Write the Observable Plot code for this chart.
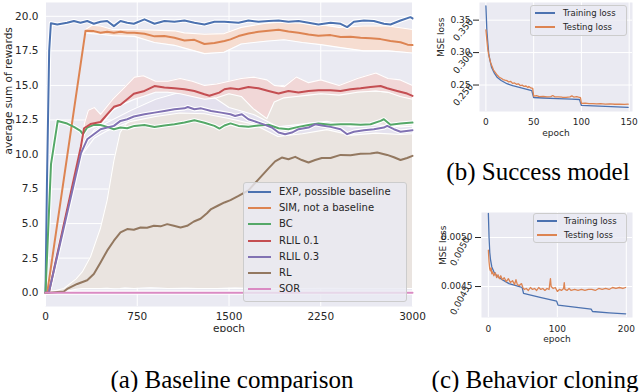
<!DOCTYPE html>
<html><head><meta charset="utf-8">
<script src="https://cdn.jsdelivr.net/npm/d3@7"></script>
<script src="https://cdn.jsdelivr.net/npm/@observablehq/plot@0.6"></script>
<style>
html,body{margin:0;padding:0;background:#fff;}
#root{position:relative;width:640px;height:392px;overflow:hidden;font-family:"DejaVu Sans",sans-serif;color:#262626;}
.panel{position:absolute;}
.legend{position:absolute;box-sizing:border-box;background:rgba(234,234,242,0.8);border:1px solid #cccccc;border-radius:3px;}
.entry{position:absolute;white-space:nowrap;}
.sw{position:absolute;}
.caption{position:absolute;width:320px;text-align:center;font-family:"Liberation Serif","Times New Roman",serif;font-size:25px;line-height:25px;white-space:nowrap;color:#000;}
</style></head>
<body><div id="root"></div>
<script>
// ---------- (a) Baseline comparison: [epoch, value] ----------
const expLine = [[0,0],[12,8],[30,17.5],[44,19.5],[96,19.41],[177,19.53],[232,19.66],[286,19.53],[341,19.66],[395,19.46],[450,19.61],[504,19.66],[559,19.29],[613,19.66],[668,19.53],[722,19.46],[809,19.78],[891,19.46],[972,19.66],[1054,19.61],[1136,19.7],[1217,19.53],[1299,19.41],[1381,19.61],[1463,19.61],[1578,19.53],[1659,19.7],[1741,19.61],[1823,19.66],[1905,19.7],[1986,19.61],[2068,19.66],[2150,19.53],[2231,19.41],[2330,19.53],[2412,19.46],[2466,19.22],[2521,19.61],[2603,19.7],[2684,19.66],[2766,19.46],[2820,19.41],[2902,19.7],[2983,19.94],[3000,19.85]];
const simLine = [[0,0],[14,0],[327,18.95],[395,18.93],[450,18.81],[504,18.88],[559,18.81],[613,18.88],[668,18.81],[727,18.81],[809,18.74],[891,18.55],[972,18.57],[1054,18.45],[1136,18.25],[1217,18.3],[1299,18.0],[1381,18.07],[1463,18.21],[1512,18.33],[1578,18.57],[1659,18.75],[1741,18.88],[1823,18.96],[1905,19.02],[1986,18.9],[2068,18.81],[2150,18.69],[2231,18.6],[2330,18.64],[2412,18.5],[2494,18.52],[2575,18.45],[2657,18.42],[2738,18.35],[2820,18.22],[2902,18.12],[2960,17.95],[3000,17.92]];
const bcLine = [[0,0],[45,9.3],[100,12.43],[177,12.24],[232,12.0],[286,11.71],[305,11.47],[341,11.95],[395,12.14],[450,12.14],[504,12.0],[559,11.83],[613,11.95],[668,11.9],[727,12.07],[809,12.14],[891,11.99],[972,12.1],[1054,12.19],[1136,12.31],[1217,12.48],[1299,12.3],[1381,12.07],[1422,11.88],[1463,12.1],[1512,12.25],[1578,12.07],[1659,12.0],[1741,12.1],[1823,12.15],[1905,11.9],[1986,11.83],[2068,12.0],[2150,12.14],[2231,12.24],[2330,12.15],[2412,12.19],[2494,12.19],[2575,12.15],[2657,12.19],[2739,12.43],[2766,12.55],[2820,12.15],[2902,12.24],[3000,12.31]];
const rlil1Line = [[0,0],[27,0],[290,10.6],[315,11.9],[368,12.2],[450,12.35],[504,12.9],[559,13.45],[613,13.6],[668,14.0],[722,14.4],[809,14.6],[891,14.95],[972,14.85],[1054,14.8],[1136,14.72],[1217,14.6],[1299,14.36],[1340,14.25],[1420,14.48],[1463,14.72],[1512,14.79],[1578,14.72],[1659,14.89],[1741,14.79],[1823,14.6],[1905,14.41],[1986,14.6],[2068,14.48],[2150,14.6],[2231,14.65],[2330,14.65],[2412,14.6],[2494,14.72],[2575,14.79],[2657,14.89],[2739,14.96],[2793,14.79],[2875,14.6],[2956,14.41],[3000,14.24]];
const rlil3Line = [[0,0],[27,0],[290,10.1],[341,11.1],[395,11.47],[450,11.83],[504,11.95],[559,12.07],[613,12.43],[668,12.55],[722,12.75],[809,12.91],[891,13.03],[972,13.15],[1054,13.27],[1136,13.34],[1163,13.44],[1217,13.27],[1272,13.34],[1354,13.15],[1436,13.03],[1512,12.91],[1550,12.79],[1605,12.91],[1659,12.55],[1741,12.31],[1795,12.14],[1850,11.95],[1905,11.59],[1959,11.47],[2014,11.59],[2068,11.83],[2150,11.95],[2204,12.19],[2259,12.1],[2330,12.0],[2412,11.83],[2466,11.47],[2521,11.65],[2603,11.76],[2684,11.83],[2766,11.95],[2793,12.07],[2848,11.83],[2902,11.65],[3000,11.76]];
const rlLine = [[0,0],[27,0],[150,0.08],[177,0.27],[259,0.63],[341,0.9],[395,1.35],[450,2.19],[504,3.04],[559,3.76],[613,4.36],[668,4.6],[722,4.55],[777,4.72],[830,4.7],[886,4.84],[940,4.8],[995,4.96],[1049,4.84],[1104,4.72],[1158,4.84],[1213,5.15],[1267,5.35],[1320,5.75],[1354,6.05],[1408,6.29],[1463,6.53],[1512,6.7],[1578,7.0],[1659,7.4],[1741,8.2],[1823,9.0],[1877,9.5],[1932,9.78],[1986,9.66],[2041,9.83],[2095,9.6],[2150,9.42],[2204,9.6],[2259,9.75],[2330,9.75],[2412,9.97],[2494,9.95],[2575,10.05],[2657,10.07],[2712,10.14],[2793,9.97],[2848,9.8],[2902,9.6],[2956,9.75],[3000,9.9]];
const sorLine = [[0,0],[3000,0]];
// bands: [epoch, lower, upper]
const simBand = [[327,18.8,19.05],[380,18.75,19.35],[450,18.7,19.3],[550,18.6,19.05],[727,18.55,19.05],[891,18.1,19.0],[1054,17.9,18.95],[1136,17.7,18.8],[1300,17.3,18.7],[1460,17.4,18.75],[1600,18.0,19.2],[1800,18.2,19.5],[1950,18.3,19.6],[2100,18.1,19.5],[2250,17.95,19.4],[2400,17.75,19.2],[2600,17.5,19.3],[2800,17.5,19.3],[3000,17.35,19.05]];
const rlil1Band = [[290,10.4,10.8],[320,11.5,12.3],[350,11.9,13.2],[400,12.0,13.4],[450,12.1,12.9],[550,13.2,14.0],[650,13.7,14.9],[727,14.0,15.6],[800,14.2,15.7],[900,14.5,15.3],[1000,14.5,15.3],[1100,14.4,15.5],[1200,14.2,15.3],[1300,14.0,15.0],[1400,14.1,15.1],[1500,14.4,15.3],[1600,14.2,15.5],[1700,13.3,15.6],[1810,12.6,15.4],[1870,13.8,15.0],[1950,14.1,14.9],[2050,14.2,15.6],[2150,14.3,15.2],[2250,14.4,15.4],[2400,14.3,15.0],[2550,14.5,15.5],[2700,14.6,15.9],[2800,14.5,15.5],[2900,14.2,15.4],[3000,14.0,15.0]];
const rlil3Band = [[290,9.9,10.3],[400,11.2,11.8],[500,11.7,12.3],[700,12.4,13.2],[900,12.75,14.0],[1100,13.0,14.5],[1300,12.95,14.6],[1500,12.6,13.4],[1700,12.2,12.9],[1900,11.3,12.0],[2100,11.5,12.2],[2300,11.8,12.4],[2500,11.4,12.0],[2700,11.55,12.15],[2900,11.45,12.0],[3000,11.5,12.05]];
const rlBand = [[0,0,0],[150,0.05,0.3],[250,0.25,1.0],[300,0.3,1.5],[368,0.3,2.6],[450,0.3,4.7],[504,0.32,6.7],[560,0.28,9.6],[610,0.3,11.6],[650,0.33,12.1],[722,0.3,12.9],[860,0.35,13.5],[1000,0.3,13.7],[1150,0.32,13.8],[1250,0.3,14.4],[1400,0.3,14.6],[1550,0.33,14.8],[1700,0.3,14.9],[1900,0.3,14.5],[2100,0.3,14.6],[2300,0.32,14.7],[2500,0.3,14.6],[2700,0.3,14.6],[2900,0.3,14.4],[3000,0.3,14.2]];
const seriesNames = ["EXP, possible baseline","SIM, not a baseline","BC","RLIL 0.1","RLIL 0.3","RL","SOR"];
const seriesColors = ["#4c72b0","#dd8452","#55a868","#c44e52","#8172b3","#937860","#da8bc3"];
const bandFills = ["#eae4e0","#e4e1ee","#f1d7d7","#f6ddd1"]; // RL, RLIL 0.3, RLIL 0.1, SIM
const xTicksA = [0,750,1500,2250,3000];
const yTicksA = [0,2.5,5,7.5,10,12.5,15,17.5,20];

// ---------- (b) Success model ----------
const bTrain = [[0,0.372],[1,0.334],[2,0.315],[3,0.298],[4,0.29],[6,0.277],[9,0.268],[12,0.2615],[16,0.257],[22,0.252],[28,0.249],[36,0.246],[42,0.2438],[48,0.2415],[50,0.2308],[60,0.2300],[75,0.229],[90,0.2282],[98,0.2277],[100,0.2185],[125,0.217],[149,0.2156]];
const bTest = [[0,0.335],[1,0.32],[2,0.305],[3,0.296],[5,0.284],[8,0.273],[12,0.265],[14,0.262],[16,0.2605],[18,0.2585],[20,0.2575],[22,0.2568],[24,0.2548],[26,0.2555],[28,0.2525],[30,0.2532],[32,0.2512],[34,0.2518],[36,0.2492],[38,0.2498],[40,0.2478],[42,0.2485],[44,0.2462],[45,0.2478],[47,0.2455],[49,0.2448],[50,0.2330],[53,0.2335],[56,0.2322],[60,0.2325],[64,0.2318],[68,0.2322],[70,0.2338],[72,0.2318],[76,0.2316],[80,0.2312],[84,0.2310],[88,0.2318],[90,0.2332],[92,0.2315],[95,0.2320],[97,0.2312],[99,0.2306],[100,0.2218],[104,0.2220],[108,0.2212],[112,0.2214],[116,0.2208],[120,0.2212],[125,0.2206],[130,0.2210],[135,0.2204],[140,0.2207],[145,0.2202],[149,0.2205]];
const xTicksB = [0,50,100,150];
const yTicksB = [0.25,0.30,0.35];
const yLabelsB = ["0.250","0.300","0.350"];

// ---------- (c) Behavior cloning ----------
const cTrain = [[0,0.005245],[1,0.0050],[2,0.00485],[3,0.00478],[5,0.00470],[8,0.00465],[12,0.00461],[20,0.00457],[30,0.00453],[45,0.00450],[49,0.00449],[51,0.00443],[60,0.004415],[75,0.00439],[99,0.00435],[101,0.00431],[125,0.00429],[149,0.00427],[151,0.004245],[175,0.004232],[199,0.004222]];
const cTest = [[0,0.00487],[1,0.00475],[2,0.00468],[3,0.00466],[4,0.00469],[5,0.00463],[6,0.00465],[8,0.00461],[10,0.00464],[12,0.00459],[14,0.00462],[16,0.00458],[18,0.00461],[20,0.00457],[23,0.00459],[26,0.00455],[29,0.00458],[32,0.00454],[35,0.00456],[38,0.00452],[40,0.00457],[42,0.00452],[45,0.00451],[48,0.00453],[50,0.00449],[52,0.00447],[55,0.00448],[58,0.00446],[61,0.00449],[64,0.00447],[67,0.00448],[70,0.00446],[73,0.00449],[76,0.00447],[79,0.00448],[82,0.00446],[85,0.00448],[88,0.00447],[90,0.00458],[91,0.00450],[94,0.00448],[97,0.00449],[100,0.00445],[103,0.00447],[106,0.00446],[109,0.00448],[110,0.00454],[111,0.00447],[114,0.00446],[117,0.00448],[120,0.00446],[125,0.00447],[130,0.00446],[135,0.00447],[140,0.00446],[145,0.00447],[150,0.00447],[155,0.00446],[160,0.00448],[165,0.00447],[170,0.00448],[175,0.00447],[180,0.00449],[185,0.00448],[190,0.00449],[195,0.00448],[199,0.00449]];
const xTicksC = [0,100,200];
const yTicksC = [0.0045,0.0050];
const yLabelsC = ["0.0045","0.0050"];
const lossNames = ["Training loss","Testing loss"];
const lossColors = ["#4c72b0","#dd8452"];

// ---------- helpers ----------
const X = d => d[0], Y = d => d[1], LO = d => d[1], HI = d => d[2];
const BG = "#eaeaf2", INK = "#262626";
const root = document.getElementById("root");
function place(node, left, top) {
  const w = document.createElement("div");
  w.className = "panel"; w.style.left = left + "px"; w.style.top = top + "px";
  w.appendChild(node); root.appendChild(w);
}

// ---------- plot (a) ----------
const lines = [expLine, simLine, bcLine, rlil1Line, rlil3Line, rlLine, sorLine];
const bands = [rlBand, rlil3Band, rlil1Band, simBand];
const bandMarks = bands.flatMap((b, k) => [
  Plot.areaY(b, {x: X, y1: LO, y2: HI, fill: bandFills[k]}),
  Plot.line(b, {x: X, y: LO, stroke: "white", strokeWidth: 1.1}),
  Plot.line(b, {x: X, y: HI, stroke: "white", strokeWidth: 1.1})
]);
const haloMarks = [0, 2, 4, 6].map(k => Plot.line(lines[k], {x: X, y: Y, stroke: "white", strokeWidth: 4.2}));
const lineMarks = lines.map((l, k) => Plot.line(l, {x: X, y: Y, stroke: seriesColors[k], strokeWidth: 2, strokeLinejoin: "round"}));

const plotA = Plot.plot({
  width: 434, height: 332,
  marginLeft: 45, marginRight: 22, marginTop: 2, marginBottom: 26,
  x: {domain: [0, 3000]},
  y: {domain: [-1, 21]},
  style: {fontFamily: "DejaVu Sans", fontSize: "10.5px", color: INK, background: "transparent"},
  marks: [
    Plot.frame({fill: BG, stroke: null}),
    Plot.gridX(xTicksA, {stroke: "white", strokeOpacity: 1, strokeWidth: 1}),
    Plot.gridY(yTicksA, {stroke: "white", strokeOpacity: 1, strokeWidth: 1}),
    ...bandMarks, ...haloMarks, ...lineMarks,
    Plot.axisX(xTicksA, {tickSize: 0, tickPadding: 6, tickFormat: d3.format("d"), label: null}),
    Plot.axisY(yTicksA, {tickSize: 0, tickPadding: 7, tickFormat: d3.format(".1f"), label: null}),
    Plot.text(["epoch"], {text: d => d, frameAnchor: "bottom", dy: 25, fontSize: 10.5}),
    Plot.text(["average sum of rewards"], {text: d => d, frameAnchor: "left", dx: -37, rotate: -90, fontSize: 10.5})
  ]
});
place(plotA, 0, 0);

// ---------- plots (b), (c) ----------
function lossPlot({train, test, xTicks, yTicks, yLabels, xDomain, yDomain, mt, mb, ml, xPad, yDx, rot}) {
  return Plot.plot({
    width: 220, height: 140,
    marginLeft: ml, marginRight: 8, marginTop: mt, marginBottom: mb,
    x: {domain: xDomain}, y: {domain: yDomain},
    style: {fontFamily: "DejaVu Sans", fontSize: "9px", color: INK, background: "transparent", overflow: "visible"},
    marks: [
      Plot.frame({fill: BG, stroke: null}),
      Plot.gridX(xTicks, {stroke: "white", strokeOpacity: 1, strokeWidth: 1}),
      Plot.gridY(yTicks, {stroke: "white", strokeOpacity: 1, strokeWidth: 1}),
      Plot.line(train, {x: X, y: Y, stroke: lossColors[0], strokeWidth: 1.3}),
      Plot.line(test, {x: X, y: Y, stroke: lossColors[1], strokeWidth: 1.3}),
      Plot.axisX(xTicks, {tickSize: 0, tickPadding: xPad, label: null}),
      Plot.text(yTicks, {y: d => d, text: (d, i) => yLabels[i], frameAnchor: "left", dx: yDx, rotate: rot, textAnchor: "end", fontSize: 9}),
      Plot.text(["epoch"], {text: d => d, frameAnchor: "bottom", dy: 24, fontSize: 9}),
      Plot.text(["MSE loss"], {text: d => d, frameAnchor: "left", dx: -38, rotate: -90, fontSize: 9})
    ]
  });
}
place(lossPlot({train: bTrain, test: bTest, xTicks: xTicksB, yTicks: yTicksB, yLabels: yLabelsB,
  xDomain: [-6.7, 153.5], yDomain: [0.2092, 0.3772], mt: 2, mb: 29, ml: 59, xPad: 7, yDx: -8, rot: -50}), 420, 0);
place(lossPlot({train: cTrain, test: cTest, xTicks: xTicksC, yTicks: yTicksC, yLabels: yLabelsC,
  xDomain: [-9.95, 208.95], yDomain: [0.004184, 0.005255], mt: 7, mb: 28, ml: 61, xPad: 8, yDx: -14, rot: -62}), 420, 205);

// ---------- legends ----------
function legend(names, colors, {left, top, width, height, first, step, swLeft, swWidth, swH, textLeft, fs}) {
  const box = document.createElement("div");
  box.className = "legend";
  Object.assign(box.style, {left: left + "px", top: top + "px", width: width + "px", height: height + "px"});
  names.forEach((n, i) => {
    const cy = first + i * step;
    const sw = document.createElement("div");
    sw.className = "sw";
    Object.assign(sw.style, {left: swLeft + "px", top: (cy - swH / 2) + "px", width: swWidth + "px", height: swH + "px", background: colors[i]});
    box.appendChild(sw);
    const t = document.createElement("div");
    t.className = "entry";
    t.textContent = n;
    Object.assign(t.style, {left: textLeft + "px", top: (cy - 7) + "px", height: "14px", lineHeight: "14px", fontSize: fs + "px"});
    box.appendChild(t);
  });
  root.appendChild(box);
}
legend(seriesNames, seriesColors, {left: 243, top: 182, width: 164, height: 120, first: 9, step: 16.2, swLeft: 4, swWidth: 23, swH: 2, textLeft: 35, fs: 10});
legend(lossNames, lossColors, {left: 530, top: 5, width: 97, height: 31, first: 7, step: 14, swLeft: 4, swWidth: 20, swH: 1.3, textLeft: 32, fs: 8.5});
legend(lossNames, lossColors, {left: 533, top: 213, width: 94, height: 30, first: 7, step: 14, swLeft: 3, swWidth: 20, swH: 1.3, textLeft: 30, fs: 8.5});

// ---------- captions ----------
const captions = [["(a) Baseline comparison", 232, 388], ["(b) Success model", 538, 180], ["(c) Behavior cloning", 535, 388]];
captions.forEach(([t, cx, base]) => {
  const c = document.createElement("div");
  c.className = "caption"; c.textContent = t;
  c.style.left = (cx - 160) + "px"; c.style.top = (base - 21) + "px";
  root.appendChild(c);
});
</script></body></html>
